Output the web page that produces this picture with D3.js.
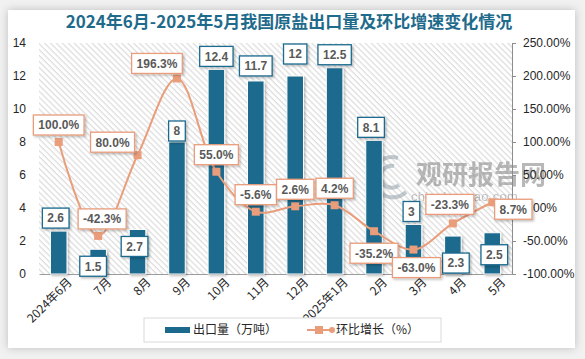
<!DOCTYPE html>
<html>
<head>
<meta charset="utf-8">
<script src="https://cdn.jsdelivr.net/npm/d3@7"></script>
<style>
  html, body { margin: 0; padding: 0; background: #f1f1f1; }
  svg { display: block; font-family: "Liberation Sans", "Noto Sans CJK SC", sans-serif; }
</style>
</head>
<body>
<svg id="chart" width="585" height="359"></svg>
<script>
// ── Data ─────────────────────────────────────────────────────────────────────
const months  = ['2024年6月', '7月', '8月', '9月', '10月', '11月', '12月', '2025年1月', '2月', '3月', '4月', '5月'];
const exports = [2.6, 1.5, 2.7, 8, 12.4, 11.7, 12, 12.5, 8.1, 3, 2.3, 2.5];
const growth  = [100.0, -42.3, 80.0, 196.3, 55.0, -5.6, 2.6, 4.2, -35.2, -63.0, -23.3, 8.7];
const leftTicks  = [0, 2, 4, 6, 8, 10, 12, 14];
const rightTicks = [-100, -50, 0, 50, 100, 150, 200, 250];

// label nudges (dx, dy from default spot) so boxes don't collide
const barLabelShift  = [[-3,0],[-5,30],[-3,30],[0,2],[0,0],[0,-2],[0,-9],[0,0],[-3,0],[-2,0],[3,40],[2,35]];
const lineLabelShift = [[0,0],[4,0],[-25,4],[-20,2],[0,0],[0,0],[0,0],[0,0],[0,39],[3,35],[-3,-2],[21,24]];

// ── Setup ────────────────────────────────────────────────────────────────────
const svg = d3.select('#chart');
const W = 585, H = 359;
const plot = { left: 39, right: 512, top: 43, bottom: 274 };
const barColor = '#1b6a8e', lineColor = '#e99d7b', textColor = '#595959';

const defs = svg.append('defs');
const hatch = defs.append('pattern')
    .attr('id', 'hatch')
    .attr('patternUnits', 'userSpaceOnUse')
    .attr('width', 4.2).attr('height', 4.2)
    .attr('patternTransform', 'rotate(-45)');
hatch.append('line')
    .attr('x1', 1).attr('y1', 0).attr('x2', 1).attr('y2', 4.2)
    .attr('stroke', '#d4d4d4').attr('stroke-width', 1);

const shadow = defs.append('filter').attr('id', 'shadow')
    .attr('x', '-20%').attr('y', '-20%').attr('width', '150%').attr('height', '150%');
shadow.append('feDropShadow')
    .attr('dx', 1.5).attr('dy', 1.5).attr('stdDeviation', 1.2)
    .attr('flood-color', '#000').attr('flood-opacity', 0.25);

const cardShadow = defs.append('filter').attr('id', 'cardShadow')
    .attr('x', '-5%').attr('y', '-5%').attr('width', '110%').attr('height', '110%');
cardShadow.append('feDropShadow')
    .attr('dx', 0).attr('dy', 0).attr('stdDeviation', 4)
    .attr('flood-color', '#000').attr('flood-opacity', 0.22);

// card
svg.append('rect').attr('width', W).attr('height', H).attr('fill', '#f1f1f1');
svg.append('rect')
    .attr('x', 8).attr('y', 10).attr('width', 567).attr('height', 338)
    .attr('fill', '#fff').attr('filter', 'url(#cardShadow)');

// title
svg.append('text')
    .attr('x', 289).attr('y', 28)
    .attr('text-anchor', 'middle')
    .attr('fill', '#1f6b8c')
    .attr('font-size', 17).attr('font-weight', 'bold')
    .attr('font-family', '"Noto Sans CJK SC", serif')
    .text('2024年6月-2025年5月我国原盐出口量及环比增速变化情况');

// ── Scales ───────────────────────────────────────────────────────────────────
const x = d3.scaleBand()
    .domain(months)
    .range([plot.left, plot.right])
    .paddingInner(0.58).paddingOuter(0.29);
const cx = d => x(d) + x.bandwidth() / 2;

const yL = d3.scaleLinear().domain([0, 14]).range([plot.bottom, plot.top]);
const yR = d3.scaleLinear().domain([-100, 250]).range([plot.bottom, plot.top]);

// plot background
svg.append('rect')
    .attr('x', plot.left).attr('y', plot.top)
    .attr('width', plot.right - plot.left).attr('height', plot.bottom - plot.top)
    .attr('fill', 'url(#hatch)');

// watermark
const wm = svg.append('g').attr('opacity', 0.6).attr('pointer-events', 'none');
wm.append('path')
    .attr('d', 'M398,158 a20,20 0 1,0 8,34 M394,166 a11,11 0 1,0 5,19')
    .attr('fill', 'none').attr('stroke', '#9aa7b0').attr('stroke-width', 4);
wm.append('text')
    .attr('x', 416).attr('y', 184)
    .attr('font-size', 26).attr('font-weight', 'bold')
    .attr('font-family', '"Noto Sans CJK SC"')
    .attr('fill', '#8a8a8a')
    .text('观研报告网');
wm.append('text')
    .attr('x', 411).attr('y', 201)
    .attr('font-size', 13)
    .attr('fill', '#999')
    .attr('letter-spacing', 0.3)
    .text('chinabaogao.com');

// ── Axes ─────────────────────────────────────────────────────────────────────
const axL = svg.append('g')
    .attr('transform', `translate(${plot.left},0)`)
    .call(d3.axisLeft(yL).tickValues(leftTicks).tickSize(0).tickPadding(13));
axL.select('.domain').remove();

const axR = svg.append('g')
    .attr('transform', `translate(${plot.right},0)`)
    .call(d3.axisRight(yR).tickValues(rightTicks).tickSize(4).tickPadding(7)
        .tickFormat(d => d.toFixed(2) + '%'));
axR.select('.domain').attr('stroke', '#8c8c8c');
axR.selectAll('.tick line').attr('stroke', '#8c8c8c');

const axB = svg.append('g')
    .attr('transform', `translate(0,${plot.bottom})`)
    .call(d3.axisBottom(x).tickSize(0).tickSizeOuter(0));
axB.select('.domain').attr('stroke', '#9c9c9c');
axB.selectAll('.tick text')
    .attr('text-anchor', 'end')
    .attr('font-family', '"Noto Sans CJK SC", sans-serif')
    .attr('transform', 'translate(6,1) rotate(-45)')
    .attr('dy', '0.7em');

svg.selectAll('.tick text').attr('fill', '#262626').attr('font-size', 12);

// ── Bars ─────────────────────────────────────────────────────────────────────
svg.append('g').selectAll('rect')
    .data(exports)
    .join('rect')
    .attr('x', (d, i) => x(months[i]))
    .attr('y', d => yL(d))
    .attr('width', x.bandwidth())
    .attr('height', d => yL(0) - yL(d))
    .attr('fill', barColor)
    .attr('stroke', '#fff').attr('stroke-width', 1)
    .attr('filter', 'url(#shadow)');

// ── Line ─────────────────────────────────────────────────────────────────────
const line = d3.line()
    .x((d, i) => cx(months[i]))
    .y(d => yR(d))
    .curve(d3.curveCatmullRom.alpha(0.5));

svg.append('path')
    .datum(growth)
    .attr('d', line)
    .attr('fill', 'none')
    .attr('stroke', lineColor)
    .attr('stroke-width', 2);

svg.append('g').selectAll('rect')
    .data(growth)
    .join('rect')
    .attr('x', (d, i) => cx(months[i]) - 4)
    .attr('y', d => yR(d) - 4)
    .attr('width', 8).attr('height', 8)
    .attr('fill', lineColor);

// ── Labels ───────────────────────────────────────────────────────────────────
function boxLabel(g, px, py, txt, border) {
    const grp = g.append('g').attr('transform', `translate(${px},${py})`);
    const rect = grp.append('rect').attr('fill', '#fff')
        .attr('stroke', border).attr('stroke-width', 1.3)
        .attr('filter', 'url(#shadow)');
    const t = grp.append('text')
        .attr('text-anchor', 'middle').attr('dy', '0.36em')
        .attr('font-size', 12).attr('font-weight', 'bold')
        .attr('fill', textColor)
        .text(txt);
    const w = t.node().getComputedTextLength() + 10;
    rect.attr('x', -w / 2).attr('y', -10).attr('width', w).attr('height', 20);
}

const labelsG = svg.append('g');
exports.forEach((d, i) => {
    const [dx, dy] = barLabelShift[i];
    boxLabel(labelsG, cx(months[i]) + dx, yL(d) - 13 + dy, String(d), barColor);
});
growth.forEach((d, i) => {
    const [dx, dy] = lineLabelShift[i];
    boxLabel(labelsG, cx(months[i]) + dx, yR(d) - 17 + dy, d.toFixed(1) + '%', lineColor);
});

// ── Legend ───────────────────────────────────────────────────────────────────
const lg = svg.append('g');
lg.append('rect')
    .attr('x', 144).attr('y', 318).attr('width', 297).attr('height', 24)
    .attr('fill', '#fff').attr('stroke', '#d9d9d9');
lg.append('rect')
    .attr('x', 165).attr('y', 327).attr('width', 25).attr('height', 6)
    .attr('fill', barColor);
lg.append('text')
    .attr('x', 193).attr('y', 330).attr('dy', '0.36em')
    .attr('font-size', 12).attr('fill', '#262626')
    .attr('font-family', '"Noto Sans CJK SC"')
    .text('出口量（万吨）');
lg.append('line')
    .attr('x1', 307).attr('x2', 333).attr('y1', 330).attr('y2', 330)
    .attr('stroke', lineColor).attr('stroke-width', 2);
lg.append('rect')
    .attr('x', 315).attr('y', 326).attr('width', 8).attr('height', 8)
    .attr('fill', lineColor);
lg.append('circle')
    .attr('cx', 332).attr('cy', 330).attr('r', 3)
    .attr('fill', lineColor);
lg.append('text')
    .attr('x', 336).attr('y', 330).attr('dy', '0.36em')
    .attr('font-size', 12).attr('fill', '#262626')
    .attr('font-family', '"Noto Sans CJK SC"')
    .text('环比增长（%）');
</script>
</body>
</html>
